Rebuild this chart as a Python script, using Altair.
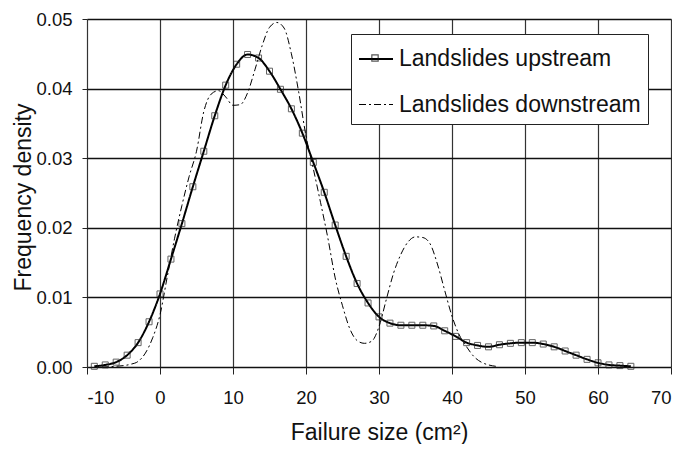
import altair as alt
import pandas as pd

UP = "Landslides upstream"
DN = "Landslides downstream"

up_x = [-9, -7.5, -6, -4.5, -3, -1.5, 0, 1.5, 3, 4.5, 6, 7.5, 9, 10.5, 12, 13.5,
        15, 16.5, 18, 19.5, 21, 22.5, 24, 25.5, 27, 28.5, 30, 31.5, 33, 34.5, 36,
        37.5, 39, 40.5, 42, 43.5, 45, 46.5, 48, 49.5, 51, 52.5, 54, 55.5, 57, 58.5,
        60, 61.5, 63, 64.5]
up_y = [0.0001, 0.0003, 0.0007, 0.0017, 0.0035, 0.0065, 0.0105, 0.0155, 0.0206,
        0.0259, 0.0310, 0.0361, 0.0405, 0.0435, 0.0449, 0.0444, 0.0425, 0.0399,
        0.0371, 0.0336, 0.0294, 0.0251, 0.0204, 0.0159, 0.0120, 0.0092, 0.0072,
        0.0063, 0.0060, 0.0060, 0.0060, 0.0059, 0.0052, 0.0044, 0.0035, 0.0031,
        0.0029, 0.0032, 0.0034, 0.0035, 0.0035, 0.0033, 0.0029, 0.0023, 0.0017,
        0.0011, 0.0006, 0.0003, 0.0002, 0.0001]

dn_x = [-8, -6, -4, -3, -2, -1, 0, 1, 2, 3, 4, 5, 6, 7, 8, 9, 10, 11, 12, 13, 14,
        15, 16, 17, 18, 19, 20, 21, 22, 23, 24, 25, 26, 27, 28, 29, 30, 31, 32, 33,
        34, 35, 36, 37, 38, 39, 40, 41, 42, 43, 44, 45, 46]
dn_y = [0.0000, 0.0001, 0.0004, 0.0008, 0.0020, 0.0042, 0.0075, 0.0130, 0.0185,
        0.0232, 0.0274, 0.0310, 0.0367, 0.0392, 0.0397, 0.0388, 0.0376, 0.0377,
        0.0394, 0.0427, 0.0462, 0.0488, 0.0495, 0.0487, 0.0450, 0.0395, 0.0332,
        0.0285, 0.0236, 0.0185, 0.0128, 0.0088, 0.0055, 0.0038, 0.0034, 0.0037,
        0.0058, 0.0097, 0.0135, 0.0162, 0.0180, 0.0187, 0.0186, 0.0177, 0.0148,
        0.0110, 0.0073, 0.0046, 0.0029, 0.0015, 0.0007, 0.0003, 0.0001]

x_ticks = [-10, 0, 10, 20, 30, 40, 50, 60, 70]
y_ticks = [0.0, 0.01, 0.02, 0.03, 0.04, 0.05]

df = pd.concat([
    pd.DataFrame({"x": dn_x, "y": dn_y, "series": DN}),
    pd.DataFrame({"x": up_x, "y": up_y, "series": UP}),
], ignore_index=True)
up_df = pd.DataFrame({"x": up_x, "y": up_y, "series": UP})

FONT = "Liberation Sans"

x_enc = alt.X(
    "x:Q",
    scale=alt.Scale(domain=[-10, 70], nice=False, zero=False),
    axis=alt.Axis(
        values=x_ticks, labelExpr="'' + datum.value", title="Failure size (cm²)",
        grid=True, gridColor="#333333", gridWidth=1.2, domain=False,
        tickSize=7, tickColor="#222222", tickWidth=1, labelPadding=14,
        labelFontSize=18.5, labelFont=FONT, labelColor="#111111",
        titleFont=FONT, titleFontSize=23, titleFontWeight="normal", titleColor="#111111",
        titleX=292, titleY=72, titleBaseline="alphabetic", titleAlign="center",
    ),
)
y_enc = alt.Y(
    "y:Q",
    scale=alt.Scale(domain=[0, 0.05], nice=False),
    axis=alt.Axis(
        values=y_ticks, format=".2f", title="Frequency density",
        grid=True, gridColor="#111111", gridWidth=1.6, domain=False,
        tickSize=5, tickColor="#222222", tickWidth=1, labelPadding=10,
        labelFontSize=18.5, labelFont=FONT, labelColor="#111111",
        titleFont=FONT, titleFontSize=23, titleFontWeight="normal", titleColor="#111111",
        titleX=-57, titleY=178, titleAngle=270, titleBaseline="alphabetic", titleAlign="center",
    ),
)

legend_main = alt.Legend(
    orient="none", legendX=264, legendY=15, title=None,
    symbolType="stroke", symbolSize=1156, symbolStrokeWidth=1.6,
    symbolStrokeColor="black",
    labelFont=FONT, labelFontSize=23, labelColor="#111111", labelOffset=5,
    labelLimit=400, rowPadding=16, padding=7,
    fillColor="white", strokeColor="#222222", zindex=0,
)
legend_marker = alt.Legend(
    orient="none", legendX=284, legendY=35, title=None,
    symbolType="square", symbolSize=40, symbolStrokeWidth=1.2,
    symbolStrokeColor="#111111", symbolFillColor="white",
    labelFontSize=1, labelColor="transparent", labelOffset=0, padding=0, zindex=10,
)

dash = alt.StrokeDash(
    "series:N",
    scale=alt.Scale(domain=[UP, DN], range=[[1, 0], [7, 3, 2, 3]]),
    legend=legend_main,
)

lines = alt.Chart(df).mark_line(interpolate="monotone", color="black").encode(
    x=x_enc, y=y_enc, strokeDash=dash,
    strokeWidth=alt.StrokeWidth("series:N", scale=alt.Scale(domain=[UP, DN], range=[2, 1]), legend=None),
    detail="series:N",
)

points = alt.Chart(up_df).mark_point(filled=False, size=36, strokeWidth=1, color="#222222").encode(
    x=x_enc, y=y_enc,
    shape=alt.Shape("series:N", scale=alt.Scale(domain=[UP], range=["square"]), legend=legend_marker),
)

chart = alt.layer(lines, points).properties(
    width=584, height=348,
    autosize=alt.AutoSizeParams(type="none"),
    padding={"left": 79, "top": 11, "right": 1, "bottom": 77},
).configure_view(stroke="black", strokeWidth=1.5).configure(background="white")

chart.save("out.html", embed_options={"renderer": "svg", "actions": False})
